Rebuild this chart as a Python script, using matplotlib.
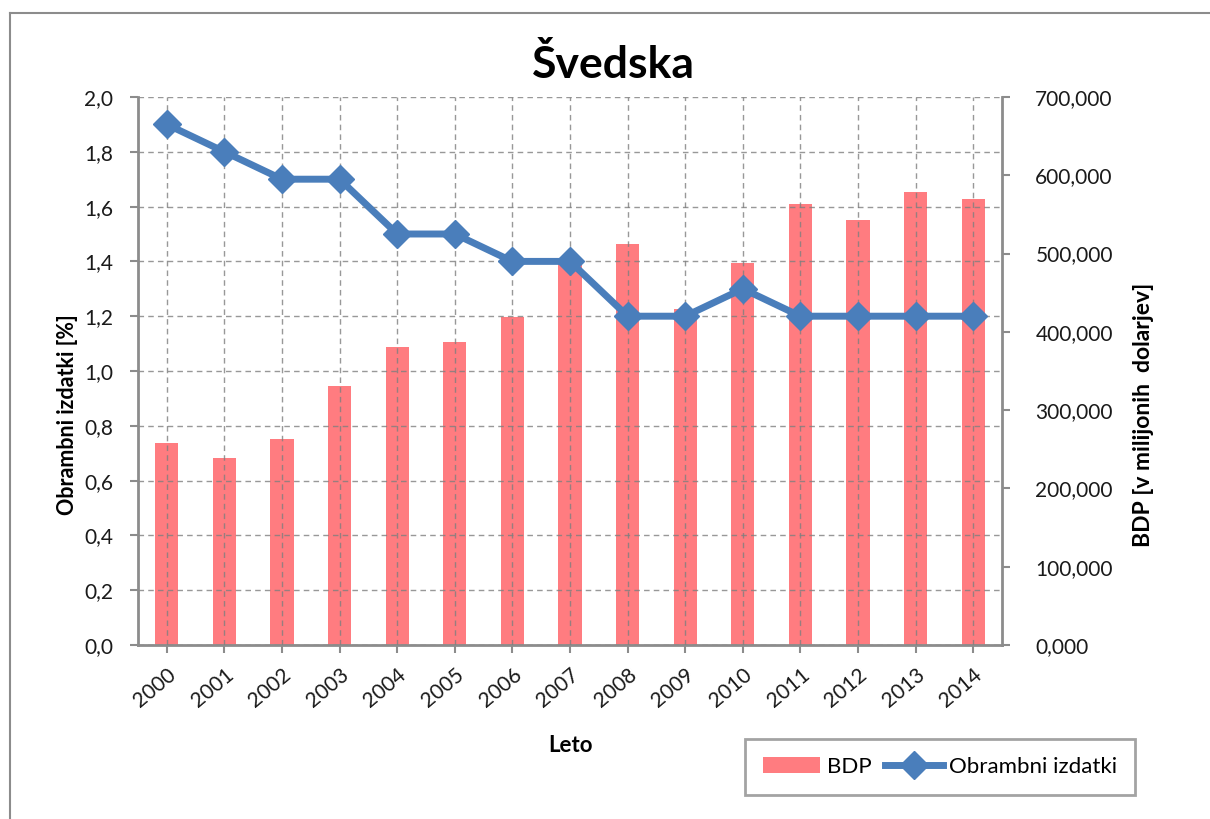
import matplotlib.pyplot as plt
from matplotlib.ticker import FuncFormatter, MultipleLocator
from matplotlib.lines import Line2D

# podatki
leta = ['2000', '2001', '2002', '2003', '2004', '2005', '2006', '2007',
        '2008', '2009', '2010', '2011', '2012', '2013', '2014']
bdp = [258400, 238500, 263100, 330800, 381000, 387400, 419000, 489000,
       512200, 428800, 488400, 562900, 543300, 579000, 569700]
izdatki = [1.9, 1.8, 1.7, 1.7, 1.5, 1.5, 1.4, 1.4,
           1.2, 1.2, 1.3, 1.2, 1.2, 1.2, 1.2]

plt.rcParams['font.family'] = ['Lato', 'DejaVu Sans']
siva = '#8c8c8c'
modra = '#4A7EBB'
rdeca = '#FF7C80'

fig = plt.figure(figsize=(12.1, 8.19), dpi=100)

# okvir grafa (zgoraj in levo)
fig.add_artist(Line2D([10/1210, 1], [1 - 13/819, 1 - 13/819], color=siva, lw=1.5))
fig.add_artist(Line2D([10/1210, 10/1210], [0, 1 - 13/819], color=siva, lw=1.5))

ax = fig.add_axes([138/1210, 1 - 645/819, 864/1210, 548/819])
x = list(range(len(leta)))

# stolpci BDP - desna os
ax.bar(x, bdp, width=0.4, color=rdeca, zorder=1, label='BDP')
ax.set_ylim(0, 700000)
ax.set_xlim(-0.5, len(leta) - 0.5)
ax.set_xticks(x)
ax.set_xticklabels(leta, rotation=40, ha='right', rotation_mode='anchor', fontsize=15.5)
ax.set_axisbelow(False)
ax.grid(True, axis='x', linestyle=(0, (4, 3)), color='#7f7f7f', lw=1, alpha=0.8, zorder=2)

# obrambni izdatki - leva os
ax2 = ax.twinx()
ax2.plot(x, izdatki, color=modra, lw=5, marker='D', ms=14, zorder=3,
         label='Obrambni izdatki')
ax2.set_ylim(0, 2.0)
ax2.yaxis.set_major_locator(MultipleLocator(0.2))
ax2.yaxis.set_major_formatter(FuncFormatter(lambda v, p: f"{v:.1f}".replace('.', ',')))
ax2.yaxis.tick_left()
ax2.grid(True, axis='y', linestyle=(0, (4, 3)), color='#7f7f7f', lw=1, alpha=0.8)

# desna os za BDP
ax.yaxis.tick_right()
ax.yaxis.set_major_locator(MultipleLocator(100000))
ax.yaxis.set_major_formatter(FuncFormatter(lambda v, p: f"{v/1000:.3f}".replace('.', ',')))

for a in (ax, ax2):
    for s in a.spines.values():
        s.set_visible(False)
    a.tick_params(colors=siva, labelcolor='#1a1a1a', labelsize=15, length=6, width=1.5)
ax2.spines['left'].set_visible(True)
ax2.spines['left'].set_color(siva)
ax2.spines['left'].set_linewidth(2)
ax.spines['right'].set_visible(True)
ax.spines['right'].set_color(siva)
ax.spines['right'].set_linewidth(2)
ax.spines['bottom'].set_visible(True)
ax.spines['bottom'].set_color(siva)
ax.spines['bottom'].set_linewidth(2)
ax.tick_params(axis='y', pad=18)
ax2.tick_params(axis='y', pad=12)
ax.tick_params(axis='x', pad=8)

fig.text(613/1210, 1 - 65/819, 'Švedska', ha='center', va='center',
         fontsize=32, fontweight='bold')
fig.text(67/1210, 1 - 415/819, 'Obrambni izdatki [%]', rotation=90,
         ha='center', va='center', fontsize=15.5, fontweight='bold')
fig.text(1143/1210, 1 - 415/819, 'BDP [v milijonih  dolarjev]', rotation=90,
         ha='center', va='center', fontsize=16.5, fontweight='bold')
fig.text(570/1210, 1 - 745/819, 'Leto', ha='center', va='center',
         fontsize=16, fontweight='bold')

h1, l1 = ax.get_legend_handles_labels()
h2, l2 = ax2.get_legend_handles_labels()
leg = fig.legend(h1 + h2, l1 + l2, loc='center', ncol=2, fontsize=16,
                 bbox_to_anchor=(940/1210, 1 - 767/819), frameon=True,
                 fancybox=False, edgecolor=siva, handlelength=2.6,
                 columnspacing=0.6, handletextpad=0.3, borderpad=0.8)
leg.get_frame().set_linewidth(2)

fig.savefig('out.png', dpi=100)
